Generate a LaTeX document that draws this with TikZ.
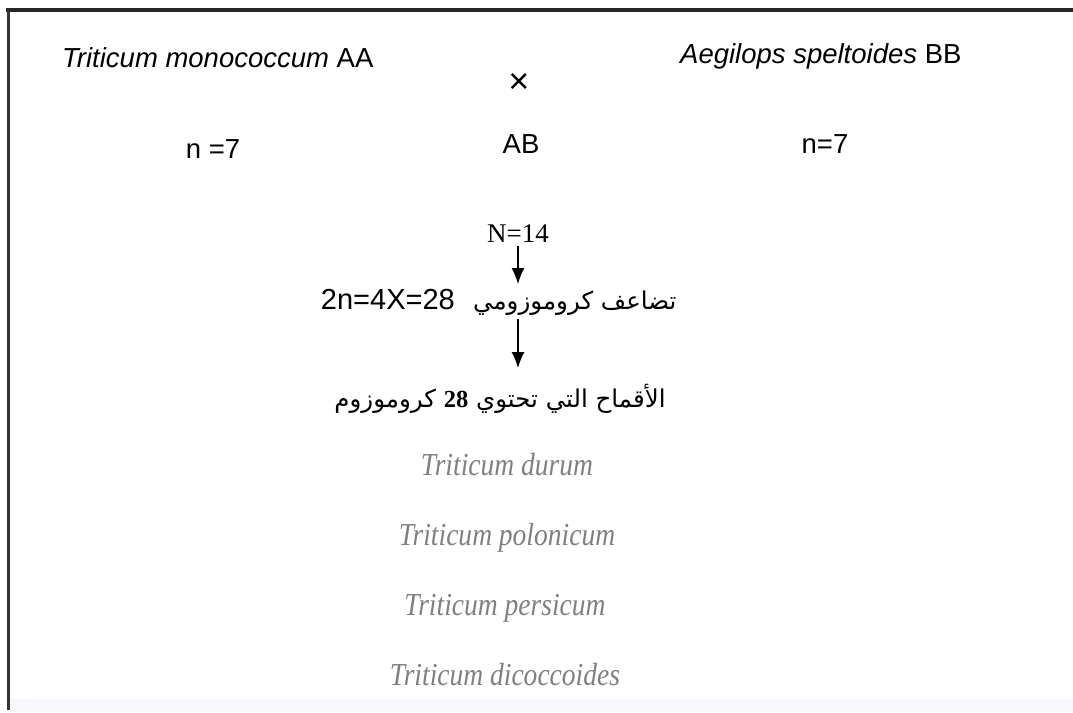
\documentclass[tikz,border=0pt]{standalone}
\usepackage{fontspec}
\setmainfont{Liberation Serif}
\newfontfamily\sansf{Liberation Sans}
\newfontfamily\latinserif{Liberation Serif}
\newfontfamily\arabicfont[Script=Arabic]{DejaVu Sans}
\newfontfamily\condserif[FakeStretch=0.86]{Liberation Serif}
\TeXXeTstate=1
\usetikzlibrary{arrows.meta}
\begin{document}
\begin{tikzpicture}[x=1pt,y=-1pt,
  lab/.style={inner sep=0pt, font=\sansf\fontsize{27.5}{30}\selectfont},
  serifl/.style={inner sep=0pt, font=\fontsize{27}{30}\selectfont},
  ar/.style={inner sep=0pt, font=\arabicfont\fontsize{24.5}{30}\selectfont},
  species/.style={inner sep=0pt, anchor=base, text=black!50, font=\condserif\itshape\fontsize{32}{36}\selectfont},
  arr/.style={line width=1.3pt, -{Latex[length=16pt,width=13pt]}}]
\useasboundingbox (0,0) rectangle (1073,712);
\fill[white] (0,0) rectangle (1073,712);
% frame
\draw[line width=3.5pt, black!85] (6,10) -- (1073,10);
\draw[line width=3pt, black!80] (8,10) -- (8,710);
\fill[blue!3] (9.5,698) rectangle (1073,712);
% parents
\node[lab, anchor=base west] (p1) at (62,67) {\itshape Triticum monococcum\upshape{} AA};
\node[lab, anchor=base west] (p2) at (680,63) {\itshape Aegilops speltoides\upshape{} BB};
\node[lab, font=\sansf\fontsize{36}{38}\selectfont] (x) at (519,83) {×};
\node[lab, anchor=base] (n1) at (213,158) {n =7};
\node[lab, anchor=base] (ab) at (521,153) {AB};
\node[lab, anchor=base] (n2) at (825,153) {n=7};
% chain
\node[serifl, anchor=base] (N) at (518,242) {N=14};
\node[lab, anchor=base east, font=\sansf\fontsize{29}{32}\selectfont] (dup) at (455,309) {2n=4X=28};
\node[ar, anchor=base west] (dupar) at (473,309) {\beginR تضاعف كروموزومي\endR};
\node[ar, anchor=base] (res) at (500,407) {\beginR الأقماح التي تحتوي \beginL{\latinserif\bfseries 28}\endL{} كروموزوم\endR};
\coordinate (a1s) at (518,246);
\coordinate (a1e) at (518,284);
\coordinate (a2s) at (518,319);
\coordinate (a2e) at (518,368);
\draw[arr] (a1s) -- (a1e);
\draw[arr] (a2s) -- (a2e);
% species
\begin{scope}
\clip (0,0) rectangle (1073,687);
\node[species] (s1) at (507,475) {Triticum durum};
\node[species] (s2) at (507,545) {Triticum polonicum};
\node[species] (s3) at (505,615) {Triticum persicum};
\node[species] (s4) at (505,685) {Triticum dicoccoides};
\end{scope}
\end{tikzpicture}
\end{document}
